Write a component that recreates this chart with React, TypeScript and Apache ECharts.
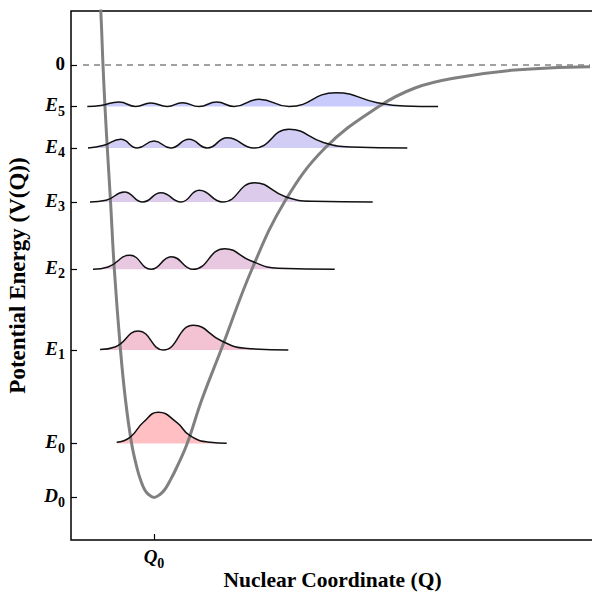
import React, { useEffect, useRef } from "react";
import * as echarts from "echarts";

// ---- Data (arbitrary units: Q relative to Q0, energy with dissociation limit at 0) ----
const levelNames = ["E0", "E1", "E2", "E3", "E4", "E5"];
const levelEnergies = [-3785, -2850, -2043, -1370, -830, -415];
const wellBottom = -4325; // D0
const eqPosition = 0; // Q0

const morseQ = [-0.542, -0.532, -0.51, -0.49, -0.467, -0.435, -0.397, -0.335, -0.285, -0.223, -0.165, -0.127, -0.097, -0.06, 0, 0.065, 0.112, 0.153, 0.215, 0.33, 0.477, 0.67, 0.98, 1.31, 1.71, 2.24, 2.61, 3.01, 3.61, 4.36];
const morseV = [650, 540, 0, -420, -830, -1360, -2040, -2850, -3350, -3790, -4050, -4170, -4240, -4290, -4325, -4290, -4240, -4170, -4050, -3790, -3350, -2850, -2040, -1360, -830, -420, -230, -130, -50, -17];

const wave0Q = [-0.373, -0.24, -0.107, 0.043, 0.227, 0.36, 0.56, 0.727];
const wave0H = [12, 62, 212, 312, 212, 78, 12, 2];

const wave1Q = [-0.54, -0.39, -0.157, 0.093, 0.393, 0.677, 0.91, 1.343];
const wave1H = [5, 30, 190, 0, 247, 90, 17, 0];

const wave2Q = [-0.61, -0.46, -0.243, -0.027, 0.173, 0.39, 0.707, 0.973, 1.24, 1.807];
const wave2H = [0, 23, 140, 0, 126, 0, 206, 83, 10, 0];

const wave3Q = [-0.64, -0.48, -0.297, -0.113, 0.07, 0.27, 0.453, 0.687, 1.003, 1.32, 1.587, 2.187];
const wave3H = [0, 17, 100, 0, 93, 0, 117, 0, 193, 50, 7, 0];

const wave4Q = [-0.66, -0.5, -0.333, -0.167, 0, 0.167, 0.35, 0.533, 0.733, 1.0, 1.35, 1.7, 1.967, 2.533];
const wave4H = [0, 27, 87, 0, 70, 0, 87, 0, 103, 0, 187, 53, 10, 0];

const wave5Q = [-0.667, -0.533, -0.35, -0.183, -0.033, 0.133, 0.283, 0.45, 0.627, 0.8, 1.05, 1.35, 1.817, 2.233, 2.5, 2.84];
const wave5H = [0, 10, 45, 0, 35, 0, 38, 0, 45, 0, 72, 0, 138, 38, 5, 0];

const waveQ = [wave0Q, wave1Q, wave2Q, wave3Q, wave4Q, wave5Q];
const waveH = [wave0H, wave1H, wave2H, wave3H, wave4H, wave5H];
const fillColors = ["#ffbfc3", "#f3c3d3", "#e8c8e0", "#dccbea", "#d2cdf4", "#c9cbfd"];

const zeroLineQ = [-0.71, 4.36];

const SERIF = "'Liberation Serif', 'Times New Roman', serif";

export default function App() {
  const ref = useRef<HTMLDivElement>(null);
  useEffect(() => {
    if (!ref.current) return;
    const chart = echarts.init(ref.current, undefined, { renderer: "svg" });

    const yTickValues = [wellBottom, ...levelEnergies, 0];
    const yTickLabel = (v: number) => {
      if (Math.abs(v) < 1) return "{n|0}";
      if (Math.abs(v - wellBottom) < 1) return "{e|D}{s|0}";
      const i = levelEnergies.findIndex((e) => Math.abs(e - v) < 1);
      if (i >= 0) return `{e|E}{s|${levelNames[i].slice(1)}}`;
      return "";
    };
    const rich = {
      n: { fontFamily: SERIF, fontWeight: "bold", fontSize: 19, color: "#000", verticalAlign: "bottom", padding: [0, 0, 3, 0] },
      e: { fontFamily: SERIF, fontWeight: "bold", fontStyle: "italic", fontSize: 19, color: "#000", padding: [0, 0, 4, 0], verticalAlign: "bottom" },
      s: { fontFamily: SERIF, fontWeight: "bold", fontSize: 14, color: "#000", verticalAlign: "bottom" },
    };

    const series: any[] = [];
    series.push({
      type: "line",
      data: zeroLineQ.map((q) => [q, 0]),
      symbol: "none",
      lineStyle: { color: "#444", width: 1.2, type: [6, 5] },
      z: 1,
    });
    levelEnergies.forEach((E, i) => {
      const data = waveQ[i].map((q, k) => [q, E + waveH[i][k]]);
      series.push({
        type: "line",
        data,
        symbol: "none",
        smooth: 0.5,
        lineStyle: { width: 0, opacity: 0 },
        areaStyle: { origin: E, color: fillColors[i], opacity: 1 },
        z: 2,
      });
    });
    series.push({
      type: "line",
      data: morseQ.map((q, k) => [q, morseV[k]]),
      symbol: "none",
      smooth: 0.4,
      lineStyle: { color: "#808080", width: 3 },
      z: 3,
    });
    levelEnergies.forEach((E, i) => {
      const data = waveQ[i].map((q, k) => [q, E + waveH[i][k]]);
      series.push({
        type: "line",
        data,
        symbol: "none",
        smooth: 0.5,
        lineStyle: { color: "#111", width: 1.5 },
        z: 4,
      });
    });

    chart.setOption({
      animation: false,
      backgroundColor: "#fff",
      grid: { left: 71, top: 11, right: -2, bottom: 55, show: true, borderColor: "#000", borderWidth: 1.5, backgroundColor: "transparent", containLabel: false, outerBoundsMode: "none" },
      xAxis: {
        type: "value",
        min: -0.83,
        max: 4.4,
        splitLine: { show: false },
        axisLine: { show: false, onZero: false },
        axisTick: { show: true, inside: true, length: 6, customValues: [eqPosition], lineStyle: { color: "#000", width: 1.2 } },
        axisLabel: {
          customValues: [eqPosition],
          formatter: () => "{e|Q}{s|0}",
          margin: 7,
          rich,
        },
        name: "Nuclear Coordinate (Q)",
        nameLocation: "middle",
        nameGap: 29,
        nameMoveOverlap: false,
        nameTextStyle: { fontFamily: SERIF, fontWeight: "bold", fontSize: 21.5, color: "#000" },
      },
      yAxis: {
        type: "value",
        min: -4750,
        max: 540,
        splitLine: { show: false },
        axisLine: { show: false, onZero: false },
        axisTick: { show: true, inside: true, length: 6, customValues: yTickValues, lineStyle: { color: "#000", width: 1.2 } },
        axisLabel: {
          customValues: yTickValues,
          formatter: (v: number) => yTickLabel(v),
          margin: 6,
          rich,
        },
        name: "Potential Energy (V(Q))",
        nameLocation: "middle",
        nameGap: 42,
        nameRotate: 90,
        nameMoveOverlap: false,
        nameTextStyle: { fontFamily: SERIF, fontWeight: "bold", fontSize: 23, color: "#000" },
      },
      series,
    });
    return () => chart.dispose();
  }, []);
  return <div ref={ref} style={{ position: "fixed", left: 0, top: 0, width: 592, height: 595 }} />;
}
